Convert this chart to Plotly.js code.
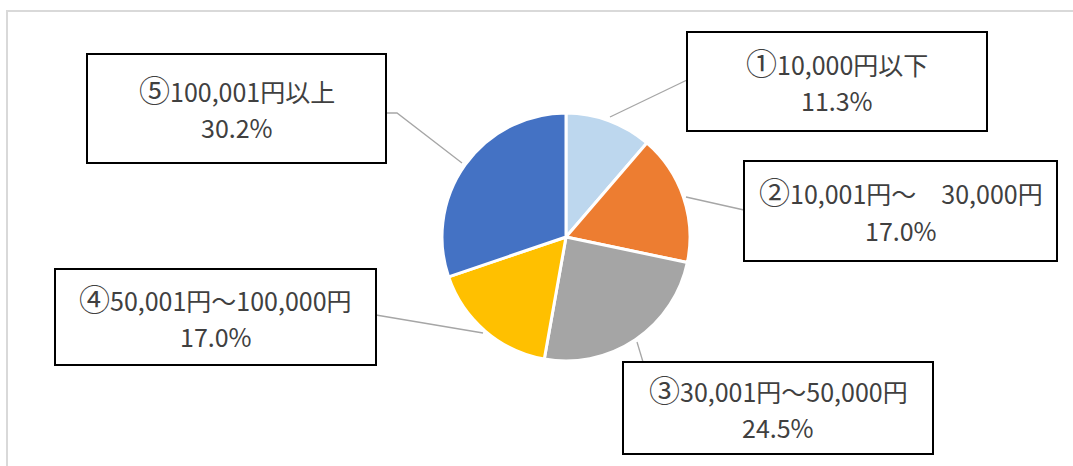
<!DOCTYPE html>
<html>
<head>
<meta charset="utf-8">
<script src="https://cdn.plot.ly/plotly-3.0.1.min.js"></script>
<style>html,body{margin:0;padding:0;background:#fff;}#chart{width:1073px;height:466px;}</style>
</head>
<body>
<div id="chart"></div>
<script>
// ---- data ----
const markers = ['①', '②', '③', '④', '⑤'];
const categories = ['10,000円以下', '10,001円～　30,000円', '30,001円～50,000円', '50,001円～100,000円', '100,001円以上'];
const values = [11.3, 17.0, 24.5, 17.0, 30.2];
const colors = ['#BDD7EE', '#ED7D31', '#A5A5A5', '#FFC000', '#4472C4'];

// ---- layout helpers (pixel -> paper) ----
const W = 1073, H = 466;
const px = x => x / W;
const py = y => 1 - y / H;

const cx = 566, cy = 237, r = 124;

// label boxes (pixel rectangles) and leader lines
const boxes = [
  {x0: 687, y0: 32, x1: 987, y1: 131},
  {x0: 744, y0: 161, x1: 1057, y1: 261},
  {x0: 623, y0: 362, x1: 933, y1: 454},
  {x0: 55, y0: 269, x1: 376, y1: 365},
  {x0: 87, y0: 54, x1: 386, y1: 163}
];
const leaders = [
  [[610, 117], [687, 80]],
  [[686, 197], [744, 210]],
  [[637, 342], [643, 362]],
  [[483, 333], [376, 315]],
  [[462, 163], [397, 113], [386, 113]]
];

const shapes = [];
// outer chart border
shapes.push({type: 'rect', xref: 'paper', yref: 'paper', x0: px(7), x1: px(1080), y0: py(11), y1: py(480),
  line: {color: '#D9D9D9', width: 2}, fillcolor: 'rgba(0,0,0,0)', layer: 'below'});
leaders.forEach(pts => {
  let path = 'M' + pts.map(p => px(p[0]) + ',' + py(p[1])).join(' L');
  shapes.push({type: 'path', xref: 'paper', yref: 'paper', path: path, line: {color: '#A6A6A6', width: 1.3}, layer: 'above'});
});
boxes.forEach(b => {
  shapes.push({type: 'rect', xref: 'paper', yref: 'paper', x0: px(b.x0), x1: px(b.x1), y0: py(b.y0), y1: py(b.y1),
    line: {color: '#000000', width: 2}, fillcolor: '#FFFFFF', layer: 'above'});
});

const annotations = [];
const fontFam = '"Noto Sans CJK JP", "Noto Sans", sans-serif';
categories.forEach((c, i) => {
  const b = boxes[i];
  const mx = (b.x0 + b.x1) / 2, my = (b.y0 + b.y1) / 2;
  annotations.push({xref: 'paper', yref: 'paper', x: px(mx), y: py(my - 20), text: '<span style="font-size:31px">' + markers[i] + '</span>' + c, showarrow: false,
    xanchor: 'center', yanchor: 'middle', font: {family: fontFam, size: 25, color: '#404040'}});
  annotations.push({xref: 'paper', yref: 'paper', x: px(mx), y: py(my + 19), text: values[i].toFixed(1) + '%', showarrow: false,
    xanchor: 'center', yanchor: 'middle', font: {family: fontFam, size: 25, color: '#404040'}});
});

const trace = {
  type: 'pie',
  labels: categories.map((c, i) => markers[i] + c),
  values: values,
  sort: false,
  direction: 'clockwise',
  rotation: 0,
  textinfo: 'none',
  hoverinfo: 'label+percent',
  marker: {colors: colors, line: {color: '#FFFFFF', width: 3}},
  domain: {x: [px(cx - r), px(cx + r)], y: [py(cy + r), py(cy - r)]},
  showlegend: false
};

Plotly.newPlot('chart', [trace], {
  width: W, height: H,
  margin: {l: 0, r: 0, t: 0, b: 0},
  paper_bgcolor: '#FFFFFF',
  showlegend: false,
  shapes: shapes,
  annotations: annotations
}, {displayModeBar: false, staticPlot: true});
</script>
</body>
</html>
